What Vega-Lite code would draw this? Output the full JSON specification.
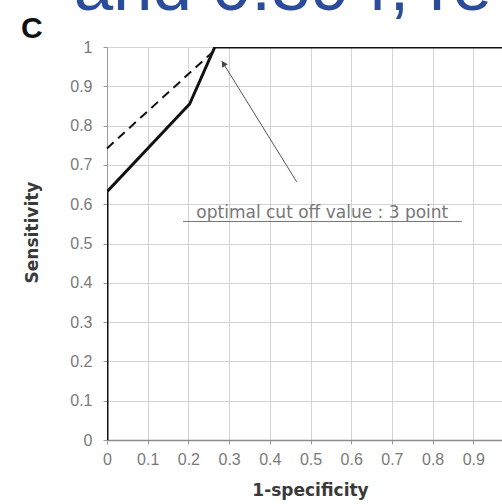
{
  "$schema": "https://vega.github.io/schema/vega-lite/v6.json",
  "width": 395,
  "height": 393,
  "autosize": {"type": "none"},
  "padding": {"left": 107, "top": 47, "right": 0, "bottom": 64},
  "background": "white",
  "config": {"view": {"stroke": null}},
  "datasets": {
    "curve": [
      {"x": 0, "y": 0, "s": "solid", "o": 1},
      {"x": 0, "y": 0.632, "s": "solid", "o": 2},
      {"x": 0.203, "y": 0.855, "s": "solid", "o": 3},
      {"x": 0.265, "y": 1, "s": "solid", "o": 4},
      {"x": 1, "y": 1, "s": "solid", "o": 5},
      {"x": 0, "y": 0.742, "s": "dashed", "o": 1},
      {"x": 0.257, "y": 0.985, "s": "dashed", "o": 2}
    ],
    "arrow": [{"x": 0.466, "y": 0.657, "x2": 0.283, "y2": 0.963}],
    "head": [{"x": 0.286, "y": 0.958}],
    "underline": [{"x": 0.187, "y": 0.556, "x2": 0.872}],
    "note": [{"x": 0.529, "y": 0.566, "label": "optimal cut off value : 3 point"}],
    "panel": [{"x": -0.211, "y": 1.023, "label": "C"}],
    "banner": [{"x": -0.082, "y": 1.093, "label": "and 0.894, re"}]
  },
  "encoding": {
    "x": {
      "field": "x", "type": "quantitative",
      "scale": {"domain": [0, 0.9705], "nice": false, "zero": false},
      "axis": {
        "title": "1-specificity",
        "values": [0, 0.1, 0.2, 0.3, 0.4, 0.5, 0.6, 0.7, 0.8, 0.9],
        "format": "~g",
        "labelFont": "Liberation Sans", "labelFontSize": 16, "labelColor": "#7a7a7a",
        "labelPadding": 7, "labelFlush": false, "labelOverlap": false,
        "tickSize": 4, "tickColor": "#999", "domainColor": "#8a8a8a", "domainWidth": 1.5,
        "gridColor": "#d3d3d3", "grid": true,
        "titleFont": "DejaVu Sans", "titleFontSize": 17, "titleFontWeight": "bold", "titleColor": "#3a3a3a",
        "titleX": 203, "titleY": 55, "titleBaseline": "alphabetic", "titleAnchor": "middle"
      }
    },
    "y": {
      "field": "y", "type": "quantitative",
      "scale": {"domain": [0, 1], "nice": false, "zero": false},
      "axis": {
        "title": "Sensitivity",
        "values": [0, 0.1, 0.2, 0.3, 0.4, 0.5, 0.6, 0.7, 0.8, 0.9, 1],
        "format": "~g",
        "labelFont": "Liberation Sans", "labelFontSize": 16, "labelColor": "#7a7a7a",
        "labelPadding": 11, "labelFlush": false, "labelOverlap": false,
        "tickSize": 4, "tickColor": "#999", "domainColor": "#999",
        "gridColor": "#d3d3d3", "grid": true,
        "titleFont": "DejaVu Sans", "titleFontSize": 17, "titleFontWeight": "bold", "titleColor": "#3a3a3a",
        "titleX": -75, "titleY": 185, "titleBaseline": "middle", "titleAnchor": "middle", "titleAngle": -90
      }
    }
  },
  "layer": [
    {
      "data": {"name": "curve"},
      "transform": [{"filter": "datum.s === 'solid'"}],
      "mark": {"type": "line", "color": "#111", "strokeWidth": 3, "clip": true},
      "encoding": {"order": {"field": "o"}}
    },
    {
      "data": {"name": "curve"},
      "transform": [{"filter": "datum.s === 'dashed'"}],
      "mark": {"type": "line", "color": "#111", "strokeWidth": 2, "strokeDash": [9, 6]},
      "encoding": {"order": {"field": "o"}}
    },
    {
      "data": {"name": "arrow"},
      "mark": {"type": "rule", "color": "#555", "strokeWidth": 1},
      "encoding": {
        "x2": {"field": "x2"},
        "y2": {"field": "y2"}
      }
    },
    {
      "data": {"name": "head"},
      "mark": {"type": "point", "shape": "triangle-up", "filled": true, "color": "#444", "size": 45, "angle": 328, "opacity": 1},
      "encoding": {}
    },
    {
      "data": {"name": "underline"},
      "mark": {"type": "rule", "color": "#777", "strokeWidth": 1},
      "encoding": {
        "x2": {"field": "x2"}
      }
    },
    {
      "data": {"name": "note"},
      "mark": {"type": "text", "font": "DejaVu Sans", "fontSize": 17, "color": "#777", "align": "center", "baseline": "alphabetic"},
      "encoding": {"text": {"field": "label"}}
    },
    {
      "data": {"name": "panel"},
      "mark": {"type": "text", "font": "Liberation Sans", "fontSize": 30, "fontWeight": "bold", "color": "#111", "align": "left", "baseline": "alphabetic", "clip": false},
      "encoding": {"text": {"field": "label"}}
    },
    {
      "data": {"name": "banner"},
      "mark": {"type": "text", "font": "Liberation Sans", "fontSize": 71, "color": "#2b4c9b", "align": "left", "baseline": "alphabetic", "clip": false},
      "encoding": {"text": {"field": "label"}}
    }
  ]
}
